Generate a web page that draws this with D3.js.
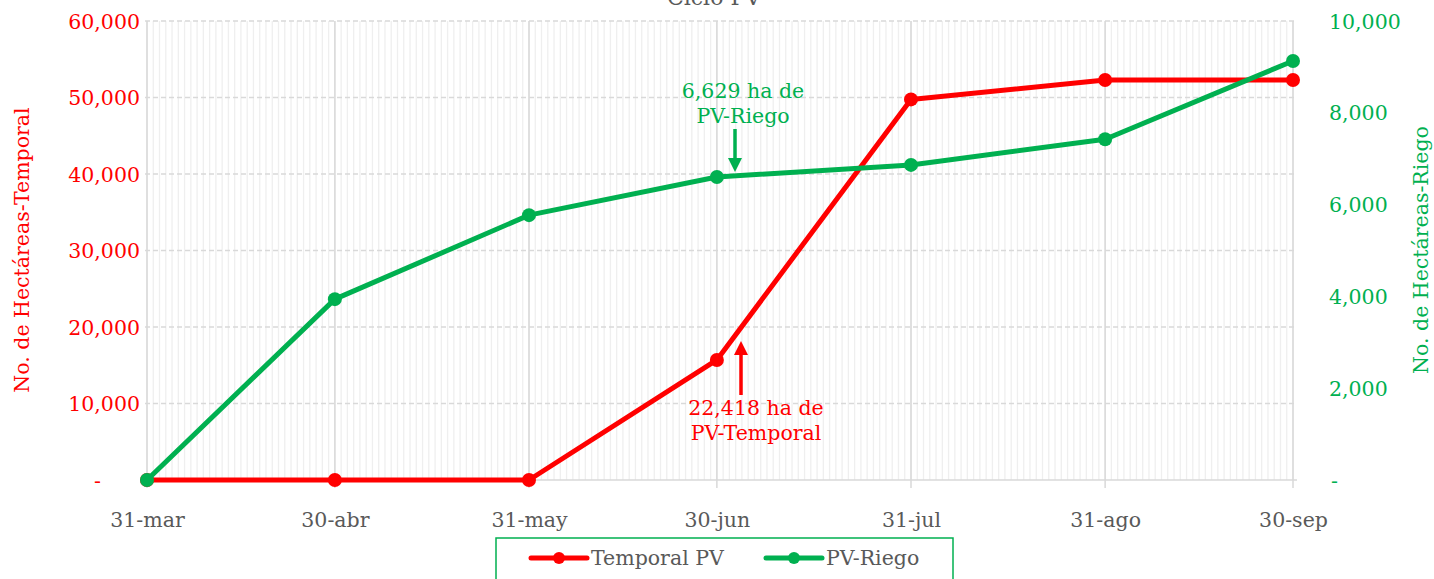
<!DOCTYPE html>
<html><head><meta charset="utf-8">
<script src="https://cdn.jsdelivr.net/npm/d3@7/dist/d3.min.js"></script>
<style>
body{margin:0;background:#fff;}
text{font-family:"DejaVu Serif",serif;}
</style></head>
<body><svg id="c" width="1434" height="579"></svg>
<script>
const dates = ["2023-03-31","2023-04-30","2023-05-31","2023-06-30","2023-07-31","2023-08-31","2023-09-30"];
const tickLabels = ["31-mar","30-abr","31-may","30-jun","31-jul","31-ago","30-sep"];
const temporal = [0, 0, 0, 15690, 49750, 52290, 52290];
const riego = [0, 3940, 5770, 6600, 6865, 7425, 9130];
const leftTicks = [0,10000,20000,30000,40000,50000,60000];
const rightTicks = [0,2000,4000,6000,8000,10000];
const seriesNames = ["Temporal PV","PV-Riego"];

const RED="#ff0000", GREEN="#00b050";
const FS=20.5;
const svg=d3.select("#c");
const parse=d3.utcParse("%Y-%m-%d");
const dd=dates.map(parse);
const x=d3.scaleUtc().domain([dd[0],dd[dd.length-1]]).range([147,1293]);
const yL=d3.scaleLinear().domain([0,60000]).range([480,21]);
const yR=d3.scaleLinear().domain([0,10000]).range([480,21]);

// minor vertical gridlines (daily)
const days=d3.utcDay.range(dd[0],d3.utcDay.offset(dd[dd.length-1],1));
svg.append("g").selectAll("line").data(days).join("line")
 .attr("x1",d=>x(d)).attr("x2",d=>x(d)).attr("y1",21).attr("y2",480)
 .attr("stroke","#efefef").attr("stroke-width",1.3);
// horizontal dashed gridlines
svg.append("g").selectAll("line").data(leftTicks.slice(1)).join("line")
 .attr("x1",145).attr("x2",1297).attr("y1",d=>yL(d)).attr("y2",d=>yL(d))
 .attr("stroke","#d9d9d9").attr("stroke-width",1.5).attr("stroke-dasharray","5,3");
// major vertical gridlines
svg.append("g").selectAll("line").data(dd).join("line")
 .attr("x1",d=>x(d)).attr("x2",d=>x(d)).attr("y1",21).attr("y2",488)
 .attr("stroke","#d9d9d9").attr("stroke-width",1.5);
// bottom axis line
svg.append("line").attr("x1",145).attr("x2",1297).attr("y1",480).attr("y2",480)
 .attr("stroke","#d9d9d9").attr("stroke-width",1.5);

// x axis labels
const xAxis=d3.axisBottom(x).tickValues(dd).tickFormat((d,i)=>tickLabels[i]).tickSize(0).tickPadding(0);
const gx=svg.append("g").attr("transform","translate(0,480)").call(xAxis);
gx.select(".domain").remove();
gx.selectAll("text").attr("fill","#595959").attr("font-size",FS).attr("dy",0).attr("y",47);

const fmt=d3.format(",");
// left axis
const gl=svg.append("g").attr("transform","translate(140,0)")
 .call(d3.axisLeft(yL).tickValues(leftTicks).tickFormat(d=>d===0?"-":fmt(d)).tickSize(0).tickPadding(0));
gl.select(".domain").remove();
gl.selectAll("text").attr("fill",RED).attr("font-size",FS).attr("dy","0.35em")
 .attr("x",d=>d===0?-39:0);
// right axis
const gr=svg.append("g").attr("transform","translate(1329,0)")
 .call(d3.axisRight(yR).tickValues(rightTicks).tickFormat(d=>d===0?"-":fmt(d)).tickSize(0).tickPadding(0));
gr.select(".domain").remove();
gr.selectAll("text").attr("fill",GREEN).attr("font-size",FS).attr("dy","0.35em").attr("x",d=>d===0?2:0);

// axis titles
svg.append("text").attr("transform","translate(29,250) rotate(-90)").attr("text-anchor","middle")
 .attr("fill",RED).attr("font-size",FS).text("No. de Hectáreas-Temporal");
svg.append("text").attr("transform","translate(1428,250) rotate(-90)").attr("text-anchor","middle")
 .attr("fill",GREEN).attr("font-size",FS).text("No. de Hectáreas-Riego");

// title (cut off at top as in the reference)
svg.append("text").attr("x",714).attr("y",5).attr("text-anchor","middle").attr("fill","#595959")
 .attr("font-size",22).text("Ciclo PV");

// lines
const lineL=d3.line().x((d,i)=>x(dd[i])).y(d=>yL(d));
const lineR=d3.line().x((d,i)=>x(dd[i])).y(d=>yR(d));
svg.append("path").attr("d",lineL(temporal)).attr("fill","none").attr("stroke",RED).attr("stroke-width",5).attr("stroke-linejoin","round");
svg.append("g").selectAll("circle").data(temporal).join("circle")
 .attr("cx",(d,i)=>x(dd[i])).attr("cy",d=>yL(d)).attr("r",7).attr("fill",RED);
svg.append("path").attr("d",lineR(riego)).attr("fill","none").attr("stroke",GREEN).attr("stroke-width",5).attr("stroke-linejoin","round");
svg.append("g").selectAll("circle").data(riego).join("circle")
 .attr("cx",(d,i)=>x(dd[i])).attr("cy",d=>yR(d)).attr("r",7).attr("fill",GREEN);

// annotations
function arrow(x0,y0,y1,color){
  const dir=y1>y0?1:-1;
  svg.append("line").attr("x1",x0).attr("x2",x0).attr("y1",y0).attr("y2",y1-dir*10)
   .attr("stroke",color).attr("stroke-width",3.5);
  svg.append("path").attr("d",`M${x0-7},${y1-dir*14}L${x0+7},${y1-dir*14}L${x0},${y1}Z`).attr("fill",color);
}
svg.append("text").attr("x",743).attr("y",98).attr("text-anchor","middle").attr("fill",GREEN).attr("font-size",FS).text("6,629 ha de");
svg.append("text").attr("x",743).attr("y",123).attr("text-anchor","middle").attr("fill",GREEN).attr("font-size",FS).text("PV-Riego");
arrow(735,129,172,GREEN);
svg.append("text").attr("x",756).attr("y",415).attr("text-anchor","middle").attr("fill",RED).attr("font-size",FS).text("22,418 ha de");
svg.append("text").attr("x",756).attr("y",440).attr("text-anchor","middle").attr("fill",RED).attr("font-size",FS).text("PV-Temporal");
arrow(741,395,341,RED);

// legend
svg.append("rect").attr("x",496).attr("y",538).attr("width",457).attr("height",50).attr("fill","none").attr("stroke",GREEN).attr("stroke-width",1.5);
const leg=[{c:RED,x:531,n:seriesNames[0]},{c:GREEN,x:766,n:seriesNames[1]}];
leg.forEach(l=>{
  svg.append("line").attr("x1",l.x).attr("x2",l.x+56).attr("y1",558).attr("y2",558).attr("stroke",l.c).attr("stroke-width",5).attr("stroke-linecap","round");
  svg.append("circle").attr("cx",l.x+28).attr("cy",558).attr("r",6).attr("fill",l.c);
  svg.append("text").attr("x",l.x+60).attr("y",565).attr("fill","#595959").attr("font-size",FS).text(l.n);
});
</script></body></html>
